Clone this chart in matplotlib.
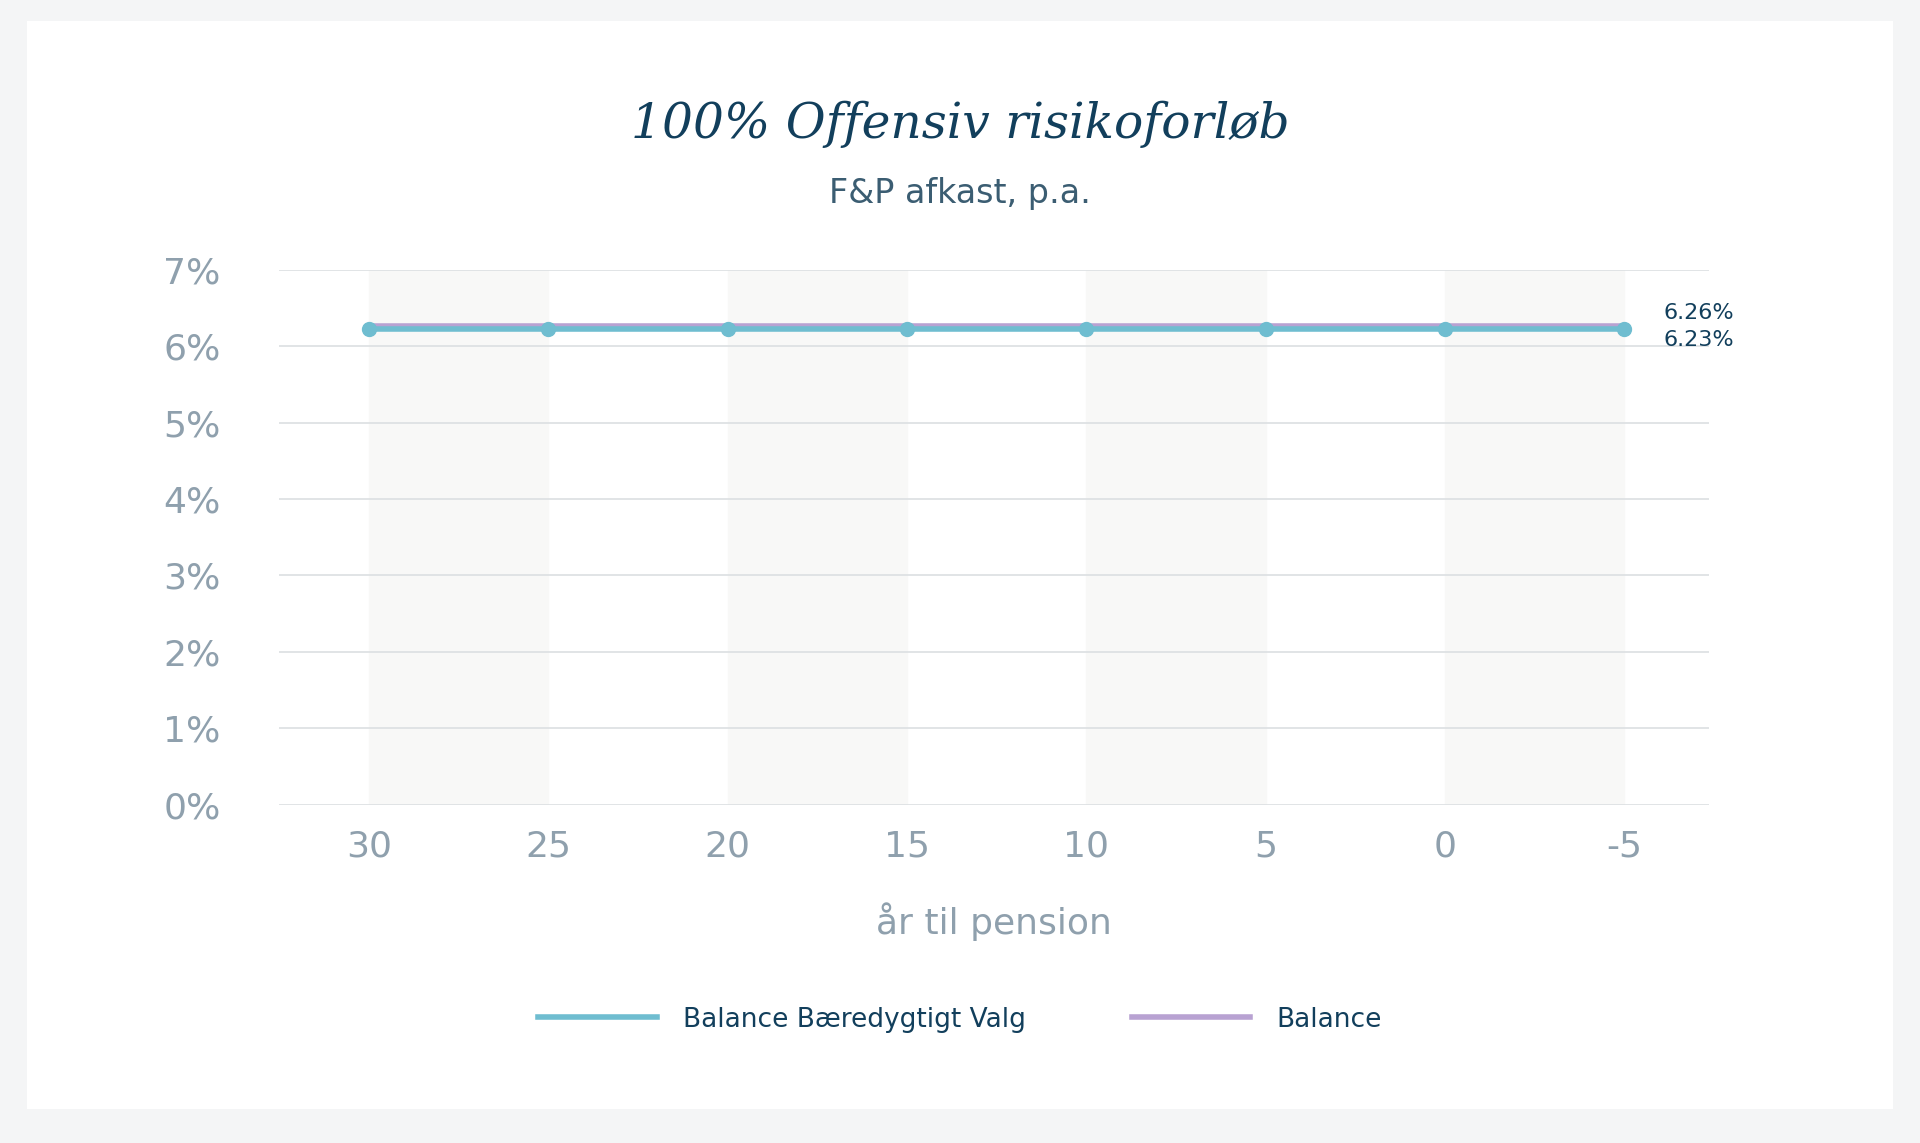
import matplotlib
matplotlib.use("Agg")
import matplotlib.pyplot as plt
from matplotlib.patches import Rectangle
from matplotlib.lines import Line2D

years = [30, 25, 20, 15, 10, 5, 0, -5]
balance_baeredygtig = [6.23] * 8
balance = [6.26] * 8
y_ticks = [0, 1, 2, 3, 4, 5, 6, 7]
bands = [(30, 25), (20, 15), (10, 5), (0, -5)]

navy = "#123f5c"
grey = "#8fa0ad"
blue = "#6fbdd0"
purple = "#b8a2d2"

fig = plt.figure(figsize=(19.2, 11.43), dpi=100)
fig.patch.set_facecolor("#f4f5f6")
# white card behind everything
card = Rectangle((0.014, 0.03), 0.972, 0.952, transform=fig.transFigure,
                 facecolor="white", edgecolor="none", zorder=-10)
fig.patches.append(card)

ax = fig.add_axes([0.1454, 0.296, 0.7446, 0.468])
ax.set_zorder(5)
ax.set_facecolor("none")
for a, b in bands:
    ax.axvspan(b, a, color="#f8f8f7", zorder=0)
for t in y_ticks:
    ax.axhline(t, color="#dcdfe2", lw=1.2, zorder=1)

ax.plot(years, balance, color=purple, lw=4, zorder=3)
ax.plot(years, balance_baeredygtig, color=blue, lw=4, marker="o", ms=10, zorder=4)
ax.text(-6.1, balance[-1] + 0.18, f"{balance[-1]:.2f}%", color=navy, fontsize=16, va="center")
ax.text(-6.1, balance_baeredygtig[-1] - 0.15, f"{balance_baeredygtig[-1]:.2f}%", color=navy, fontsize=16, va="center")

ax.set_xlim(32.5, -7.35)
ax.set_ylim(0, 7)
ax.set_xticks(years)
ax.set_xticklabels([str(y) for y in years])
ax.set_yticks(y_ticks)
ax.set_yticklabels([f"{t}%" for t in y_ticks])
ax.tick_params(length=0, labelsize=26, colors=grey)
ax.tick_params(axis="x", pad=18)
ax.tick_params(axis="y", pad=42)
for s in ax.spines.values():
    s.set_visible(False)
ax.set_xlabel("år til pension", fontsize=26, color=grey, labelpad=28)

fig.text(0.5, 0.891, "100% Offensiv risikoforløb", ha="center", va="center",
         fontsize=35, style="italic", family="DejaVu Serif", color=navy)
fig.text(0.5, 0.831, "F&P afkast, p.a.", ha="center", va="center", fontsize=24, color="#3b5d72")

handles = [Line2D([], [], color=blue, lw=4), Line2D([], [], color=purple, lw=4)]
fig.legend(handles, ["Balance Bæredygtigt Valg", "Balance"], loc="center",
           bbox_to_anchor=(0.5, 0.108), ncol=2, frameon=False, fontsize=19,
           labelcolor=navy, handlelength=4.5, columnspacing=4, handletextpad=1)

fig.savefig("out.png", dpi=100, facecolor=fig.get_facecolor())
